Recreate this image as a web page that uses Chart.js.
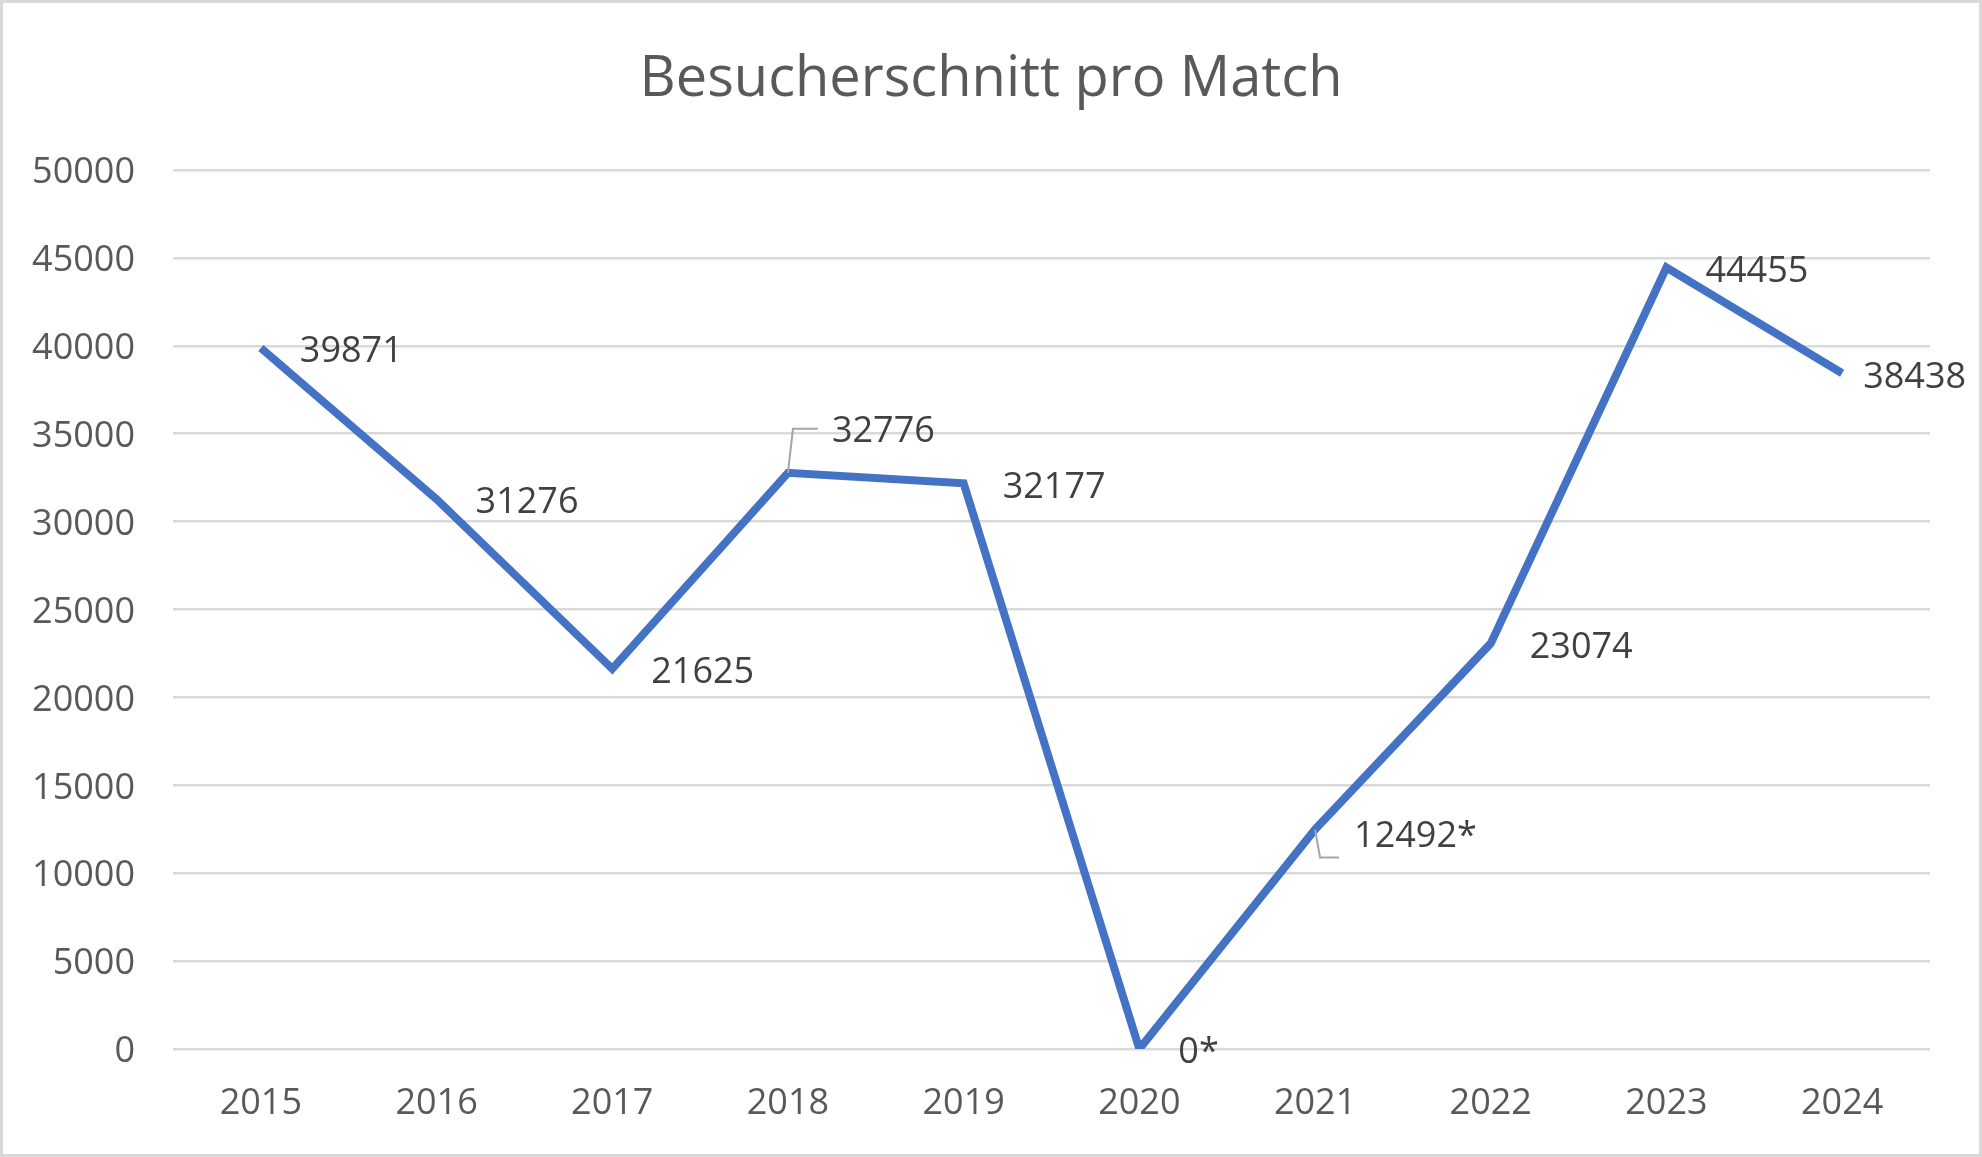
<!DOCTYPE html>
<html>
<head>
<meta charset="utf-8">
<script src="https://cdn.jsdelivr.net/npm/chart.js@4"></script>
<style>
  html, body { margin: 0; padding: 0; background: #fff; }
  #wrap { width: 1982px; height: 1157px; }
</style>
</head>
<body>
<div id="wrap"><canvas id="grafico_linha"></canvas></div>
<script>
let ctx = document.getElementById('grafico_linha')

// Daten
const titel = 'Besucherschnitt pro Match'
const years = ['2015','2016','2017','2018','2019','2020','2021','2022','2023','2024']
const besucher = [39871, 31276, 21625, 32776, 32177, 0, 12492, 23074, 44455, 38438]
const labelTexte = ['39871','31276','21625','32776','32177','0*','12492*','23074','44455','38438']
const yTicks = [0, 5000, 10000, 15000, 20000, 25000, 30000, 35000, 40000, 45000, 50000]

Chart.defaults.font.family = "'Open Sans', sans-serif"
Chart.defaults.color = '#595959'

// Beschriftungen rechts vom Punkt, einige verschoben mit Führungslinie
const labelVersatz = {
    3: { dx: 44, dy: -41, leader: [[5, -44], [30, -44]] },
    6: { dx: 39, dy: 7, leader: [[5, 28], [24, 28]] },
    9: { dx: 21, dy: 4 }
}

const datenLabels = {
    id: 'datenLabels',
    beforeDraw(chart) {
        const c = chart.ctx
        c.save()
        c.fillStyle = '#fff'
        c.fillRect(0, 0, chart.width, chart.height)
        c.strokeStyle = '#d9d9d9'
        c.lineWidth = 3
        c.strokeRect(1.5, 1.5, chart.width - 3, chart.height - 3)
        // Titel über die ganze Breite zentriert
        c.fillStyle = '#595959'
        c.font = "56px 'Open Sans', sans-serif"
        c.textAlign = 'center'
        c.textBaseline = 'middle'
        c.fillText(titel, chart.width / 2, 80)
        c.restore()
    },
    afterDatasetsDraw(chart) {
        const c = chart.ctx
        const meta = chart.getDatasetMeta(0)
        c.save()
        c.font = "36px 'Open Sans', sans-serif"
        c.textAlign = 'left'
        c.textBaseline = 'middle'
        meta.data.forEach((pt, i) => {
            const v = labelVersatz[i] || { dx: 39, dy: 4 }
            if (v.leader) {
                c.strokeStyle = '#a6a6a6'
                c.lineWidth = 2
                c.beginPath()
                c.moveTo(pt.x, pt.y)
                v.leader.forEach(p => c.lineTo(pt.x + p[0], pt.y + p[1]))
                c.stroke()
            }
            c.fillStyle = '#404040'
            c.fillText(labelTexte[i], pt.x + v.dx, pt.y + v.dy)
        })
        c.restore()
    }
}

const data = {
    labels: years,
    datasets: [{
        data: besucher,
        label: 'Besucherschnitt',
        fill: false,
        borderColor: '#4472c4',
        backgroundColor: '#4472c4',
        borderWidth: 8,
        pointRadius: 0,
        pointHoverRadius: 0,
        tension: 0
    }]
}

const config = {
    type: 'line',
    data,
    options: {
        responsive: true,
        maintainAspectRatio: false,
        animation: false,
        layout: { padding: { left: 0, right: 52, top: 170, bottom: 0 } },
        plugins: {
            legend: { display: false },
            tooltip: { enabled: false },
            title: { display: false }
        },
        scales: {
            x: {
                offset: true,
                grid: { display: false, drawTicks: false },
                border: { display: false },
                ticks: { font: { size: 36 }, color: '#595959', padding: 33, maxRotation: 0 },
                afterFit(axis) { axis.height = 108 }
            },
            y: {
                min: 0,
                max: 50000,
                afterBuildTicks(axis) { axis.ticks = yTicks.map(v => ({ value: v })) },
                grid: { color: '#d9d9d9', lineWidth: 2.5, drawTicks: false },
                border: { display: false },
                ticks: {
                    font: { size: 36 },
                    color: '#595959',
                    padding: 38,
                    labelOffset: 3,
                    callback: v => String(v)
                },
                afterFit(axis) { axis.width = 173 }
            }
        }
    },
    plugins: [datenLabels]
}

const graph = new Chart(ctx, config)
</script>
</body>
</html>
